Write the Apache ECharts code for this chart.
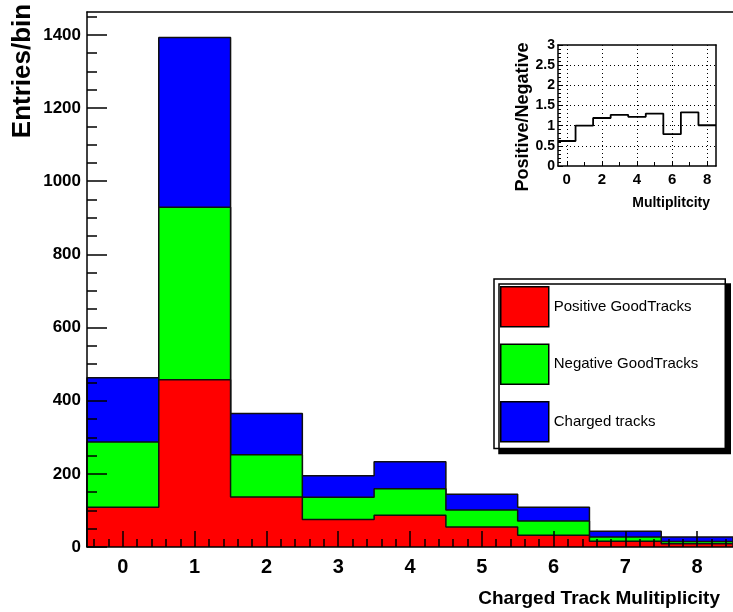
<!DOCTYPE html>
<html>
<head>
<meta charset="utf-8">
<script src="https://cdn.jsdelivr.net/npm/echarts@6/dist/echarts.min.js"></script>
<style>
html, body { margin: 0; padding: 0; background: #fff; }
#chart { width: 733px; height: 612px; }
</style>
</head>
<body>
<div id="chart"></div>
<script>
// Bin centres of the multiplicity histogram
const multiplicity = [0, 1, 2, 3, 4, 5, 6, 7, 8];
// Entries per bin for each stacked component
const positiveTracks = [109, 457, 137, 75, 87, 55, 32, 16, 9];
const negativeTracks = [178, 472, 115, 61, 72, 46, 39, 11, 6];
const chargedTracks  = [176, 464, 113, 59, 74, 43, 38, 16, 12];
// Positive/Negative ratio per bin (inset)
const ratioPosNeg = [0.62, 1.00, 1.19, 1.27, 1.22, 1.30, 0.79, 1.33, 1.01];
// Tick labels
const yTicks = [0, 200, 400, 600, 800, 1000, 1200, 1400];
const insetXTicks = [0, 2, 4, 6, 8];
const insetYTicks = [0, 0.5, 1, 1.5, 2, 2.5, 3];

const seriesNames = ['Positive GoodTracks', 'Negative GoodTracks', 'Charged tracks'];
const fillColors = ['#ff0000', '#00ff00', '#0000ff'];

const SANS = "'Liberation Sans', Arial, Helvetica, sans-serif";

// Cumulative levels of the stack (drawn back to front)
const levelPos = positiveTracks.slice();
const levelNeg = levelPos.map((v, i) => v + negativeTracks[i]);
const levelAll = levelNeg.map((v, i) => v + chargedTracks[i]);

const xLo = multiplicity[0] - 0.5;
const xHi = multiplicity[multiplicity.length - 1] + 0.5;
const yMax = Math.max(...levelAll) * 1.05;

// Histogram outline as a step path through the bin edges
function stepPoints(values, dropToZero) {
  const pts = [];
  if (dropToZero) pts.push([xLo, 0]);
  values.forEach((v, i) => {
    pts.push([multiplicity[i] - 0.5, v]);
    pts.push([multiplicity[i] + 0.5, v]);
  });
  if (dropToZero) pts.push([xHi, 0]);
  return pts;
}

// Minor tick positions
const xMinor = [];
for (let k = Math.ceil(xLo * 5); k <= Math.floor(xHi * 5); k++) xMinor.push(k / 5);
const yMinor = [];
for (let v = 50; v < yMax; v += 50) yMinor.push(v);

const chart = echarts.init(document.getElementById('chart'), null, { renderer: 'canvas' });

const lineOnly = { show: true, onZero: false, lineStyle: { color: '#000', width: 1.5 } };
const plain = v => String(v);

function histSeries(idx, level, z) {
  return {
    type: 'line',
    name: seriesNames[idx],
    xAxisIndex: 0,
    yAxisIndex: 0,
    data: stepPoints(level, true),
    symbol: 'none',
    silent: true,
    z: z,
    lineStyle: { color: '#111', width: 1.5 },
    areaStyle: { color: fillColors[idx], opacity: 1 },
    itemStyle: { color: fillColors[idx] }
  };
}

chart.setOption({
  animation: false,
  backgroundColor: '#fff',
  grid: [
    { left: 87, top: 12, right: -7, bottom: 65 },
    { left: 558, top: 45, width: 158, height: 121 }
  ],
  xAxis: [
    { // main axis: labels and major ticks
      type: 'value', gridIndex: 0, position: 'bottom', min: xLo, max: xHi, z: 10,
      axisLine: lineOnly,
      axisTick: { show: true, inside: true, length: 16, customValues: multiplicity, lineStyle: { color: '#000', width: 1.5 } },
      axisLabel: { show: true, customValues: multiplicity, margin: 10, color: '#000',
                   fontFamily: SANS, fontWeight: 'bold', fontSize: 20, formatter: plain },
      splitLine: { show: false }
    },
    { // main axis: minor ticks
      type: 'value', gridIndex: 0, position: 'bottom', min: xLo, max: xHi, z: 10,
      axisLine: { show: false, onZero: false },
      axisTick: { show: true, inside: true, length: 8, customValues: xMinor, lineStyle: { color: '#000', width: 1.5 } },
      axisLabel: { show: false },
      splitLine: { show: false }
    },
    { // frame top
      type: 'value', gridIndex: 0, position: 'top', min: xLo, max: xHi, z: 10,
      axisLine: lineOnly, axisTick: { show: false }, axisLabel: { show: false }, splitLine: { show: false }
    },
    { // inset x axis
      type: 'value', gridIndex: 1, position: 'bottom', min: xLo, max: xHi, z: 10,
      axisLine: lineOnly,
      axisTick: { show: true, inside: true, length: 4, customValues: multiplicity, lineStyle: { color: '#000', width: 1 } },
      axisLabel: { show: true, customValues: insetXTicks, margin: 6, color: '#000',
                   fontFamily: SANS, fontWeight: 'bold', fontSize: 15, formatter: plain },
      splitLine: { show: false }
    },
    { // inset frame top
      type: 'value', gridIndex: 1, position: 'top', min: xLo, max: xHi, z: 10,
      axisLine: lineOnly, axisTick: { show: false }, axisLabel: { show: false }, splitLine: { show: false }
    }
  ],
  yAxis: [
    { // main axis: labels and major ticks
      type: 'value', gridIndex: 0, position: 'left', min: 0, max: yMax, z: 10,
      axisLine: lineOnly,
      axisTick: { show: true, inside: true, length: 20, customValues: yTicks, lineStyle: { color: '#000', width: 1.5 } },
      axisLabel: { show: true, customValues: yTicks, margin: 6, color: '#000',
                   fontFamily: SANS, fontWeight: 'bold', fontSize: 17, formatter: plain },
      splitLine: { show: false }
    },
    { // main axis: minor ticks
      type: 'value', gridIndex: 0, position: 'left', min: 0, max: yMax, z: 10,
      axisLine: { show: false, onZero: false },
      axisTick: { show: true, inside: true, length: 10, customValues: yMinor, lineStyle: { color: '#000', width: 1.5 } },
      axisLabel: { show: false },
      splitLine: { show: false }
    },
    { // inset y axis
      type: 'value', gridIndex: 1, position: 'left', min: 0, max: 3, interval: 0.5, z: 10,
      axisLine: lineOnly,
      axisTick: { show: true, inside: true, length: 5, lineStyle: { color: '#000', width: 1 } },
      minorTick: { show: true, splitNumber: 5, length: 3, lineStyle: { color: '#000', width: 1 } },
      axisLabel: { show: true, customValues: insetYTicks, margin: 3, color: '#000',
                   fontFamily: SANS, fontWeight: 'bold', fontSize: 14, formatter: plain },
      splitLine: { show: false }
    },
    { // inset frame right
      type: 'value', gridIndex: 1, position: 'right', min: 0, max: 3, z: 10,
      axisLine: lineOnly, axisTick: { show: false }, axisLabel: { show: false }, splitLine: { show: false }
    }
  ],
  legend: {
    orient: 'vertical',
    left: 494,
    top: 279,
    padding: [7, 27, 6, 6],
    itemWidth: 48,
    itemHeight: 40,
    itemGap: 16,
    icon: 'rect',
    selectedMode: false,
    backgroundColor: '#fff',
    borderColor: '#000',
    borderWidth: 1.5,
    shadowColor: '#000',
    shadowBlur: 0,
    shadowOffsetX: 5,
    shadowOffsetY: 5,
    textStyle: { color: '#000', fontFamily: SANS, fontSize: 15 },
    data: seriesNames.map((n, i) => ({
      name: n,
      itemStyle: { color: fillColors[i], borderColor: '#000', borderWidth: 1.5 }
    }))
  },
  graphic: [
    { type: 'text', x: 23, y: 71, rotation: Math.PI / 2, silent: true,
      style: { text: 'Entries/bin', align: 'center', verticalAlign: 'middle',
               font: 'bold 26px ' + SANS, fill: '#000' } },
    { type: 'text', x: 720, y: 599, silent: true,
      style: { text: 'Charged Track Mulitiplicity', align: 'right', verticalAlign: 'middle',
               font: 'bold 19px ' + SANS, fill: '#000' } },
    { type: 'text', x: 523, y: 117, rotation: Math.PI / 2, silent: true,
      style: { text: 'Positive/Negative', align: 'center', verticalAlign: 'middle',
               font: 'bold 18px ' + SANS, fill: '#000' } },
    { type: 'text', x: 710, y: 203, silent: true,
      style: { text: 'Multiplitcity', align: 'right', verticalAlign: 'middle',
               font: 'bold 14px ' + SANS, fill: '#000' } }
  ],
  series: [
    histSeries(2, levelAll, 2),
    histSeries(1, levelNeg, 3),
    histSeries(0, levelPos, 4),
    {
      type: 'line',
      name: 'Positive/Negative',
      xAxisIndex: 3,
      yAxisIndex: 2,
      data: stepPoints(ratioPosNeg, false),
      symbol: 'none',
      silent: true,
      z: 3,
      lineStyle: { color: '#000', width: 1.8 },
      markLine: {
        silent: true,
        symbol: 'none',
        label: { show: false },
        lineStyle: { color: '#000', type: [1, 3], width: 1 },
        data: insetXTicks.map(v => ({ xAxis: v }))
          .concat(insetYTicks.filter(v => v > 0 && v < 3).map(v => ({ yAxis: v })))
      }
    }
  ]
});
</script>
</body>
</html>
